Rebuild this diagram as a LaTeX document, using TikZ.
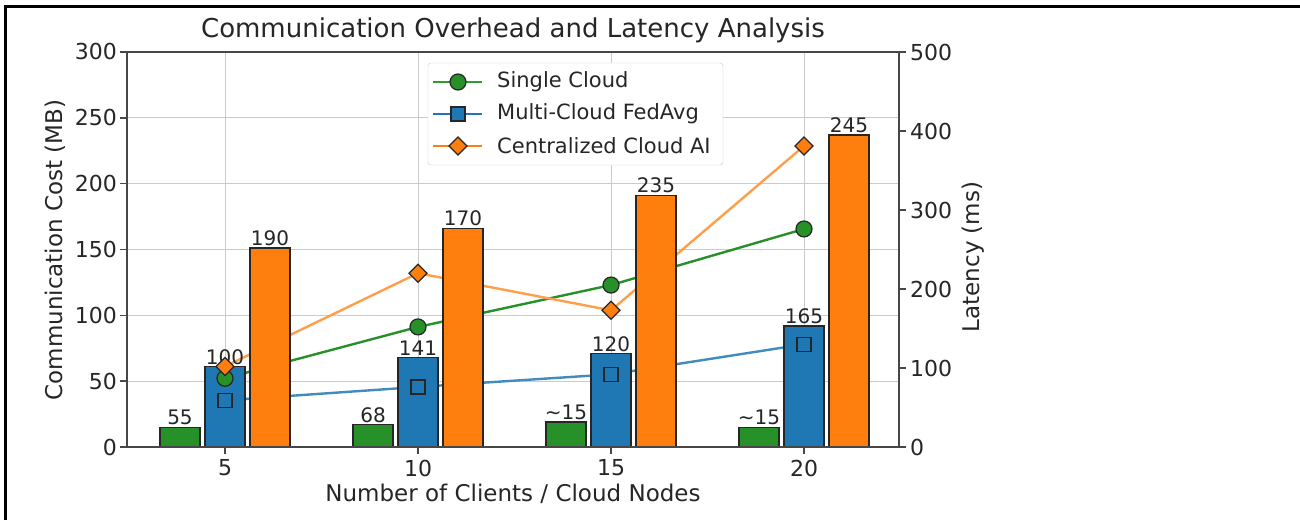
\documentclass[tikz,border=0pt]{standalone}
\usepackage{fontspec}
\setmainfont{DejaVu Sans}
\usetikzlibrary{calc}
\definecolor{singlegreen}{HTML}{2CA02C}
\definecolor{fedblue}{HTML}{1F77B4}
\definecolor{centorange}{HTML}{FF7F0E}
\definecolor{gridgray}{HTML}{CBCBCB}
\definecolor{inkdark}{HTML}{262626}

\begin{document}
\begin{tikzpicture}[
    x=1pt, y=-1pt,
    bar/.style={draw=inkdark, line width=1.4pt},
    gridline/.style={gridgray, line width=1pt},
    spine/.style={inkdark!85, line width=1.6pt},
    series/.style={line width=2.4pt, line join=round},
    mk/.style={draw=inkdark, line width=1.2pt},
    ticklbl/.style={font=\fontsize{22}{22}\selectfont, text=inkdark, inner sep=0pt},
    barlbl/.style={font=\fontsize{20}{20}\selectfont, text=inkdark, anchor=south, inner sep=2pt},
    axislbl/.style={font=\fontsize{23}{23}\selectfont, text=inkdark},
    legendlbl/.style={font=\fontsize{21}{21}\selectfont, text=inkdark, anchor=west, inner sep=0pt}
]

% pixel frame of the axes
\pgfmathsetmacro{\Left}{127}
\pgfmathsetmacro{\Right}{899}
\pgfmathsetmacro{\Top}{52}
\pgfmathsetmacro{\Base}{447}
\pgfmathsetmacro{\Step}{193}
\pgfmathsetmacro{\MBscale}{1.317}   % px per MB
\pgfmathsetmacro{\MSscale}{0.79}    % px per ms

\useasboundingbox (0,0) rectangle (1300,520);
\fill[white] (0,0) rectangle (1300,520);

% outer frame (top and left edge)
\draw[line width=3pt, black] (5,520) -- (5,6) -- (1300,6);

% Grid
\foreach \v in {50,100,...,250} {
    \pgfmathsetmacro{\gy}{\Base-\MBscale*\v}
    \draw[gridline] (\Left,\gy) -- (\Right,\gy);
}
\foreach \i in {0,...,3} {
    \pgfmathsetmacro{\cx}{225+\Step*\i}
    \draw[gridline] (\cx,\Top) -- (\cx,\Base);
}

% Latency points (right axis)
\foreach \i/\s/\f/\c in {0/87/59/102, 1/152/76/220, 2/205/92/173, 3/276/130/381} {
    \pgfmathsetmacro{\cx}{225+\Step*\i}
    \coordinate (sc\i) at (\cx,\Base-\MSscale*\s);
    \coordinate (mc\i) at (\cx,\Base-\MSscale*\f);
    \coordinate (cc\i) at (\cx,\Base-\MSscale*\c);
}
\draw[series, singlegreen!90!black] (sc0) -- (sc1) -- (sc2) -- (sc3);
\draw[series, fedblue!85!white] (mc0) -- (mc1) -- (mc2) -- (mc3);
\draw[series, centorange!75!white] (cc0) -- (cc1) -- (cc2) -- (cc3);

% Bars (left axis) with their labels
\foreach \i/\g/\gl/\b/\bl/\o/\ol in {
    0/15/55/61/100/151/190,
    1/17/68/68/141/166/170,
    2/19/\textasciitilde15/71/120/191/235,
    3/15/\textasciitilde15/92/165/237/245} {
    \pgfmathsetmacro{\cx}{225+\Step*\i}
    \pgfmathsetmacro{\gy}{\Base-\MBscale*\g}
    \pgfmathsetmacro{\by}{\Base-\MBscale*\b}
    \pgfmathsetmacro{\oy}{\Base-\MBscale*\o}
    \draw[bar, fill=singlegreen!90!black] (\cx-65,\Base) rectangle (\cx-25,\gy);
    \draw[bar, fill=fedblue] (\cx-20,\Base) rectangle (\cx+20,\by);
    \draw[bar, fill=centorange] (\cx+25,\Base) rectangle (\cx+65,\oy);
    \node[barlbl] (gl\i) at (\cx-45,\gy) {\gl};
    \node[barlbl] (bl\i) at (\cx,\by) {\bl};
    \node[barlbl] (ol\i) at (\cx+45,\oy) {\ol};
}

% Markers
\foreach \i in {0,...,3} {
    \draw[mk, fill=singlegreen!90!black] (sc\i) circle (8pt);
    \draw[mk, fill=fedblue] ([shift={(-7,-7)}]mc\i) rectangle ([shift={(7,7)}]mc\i);
    \draw[mk, fill=centorange] ([shift={(-9,0)}]cc\i) -- ([shift={(0,-9)}]cc\i)
        -- ([shift={(9,0)}]cc\i) -- ([shift={(0,9)}]cc\i) -- cycle;
}

% Spines and ticks
\draw[spine] (\Left,\Top) rectangle (\Right,\Base);
\foreach \v in {0,50,...,300} {
    \pgfmathsetmacro{\gy}{\Base-\MBscale*\v}
    \draw[spine] (\Left,\gy) -- (\Left-7,\gy);
    \node[ticklbl, anchor=east] (lt\v) at (\Left-10,\gy) {\v};
}
\foreach \v in {0,100,...,500} {
    \pgfmathsetmacro{\gy}{\Base-\MSscale*\v}
    \draw[spine] (\Right,\gy) -- (\Right+7,\gy);
    \node[ticklbl, anchor=west] (rt\v) at (\Right+11,\gy) {\v};
}
\foreach \i/\n in {0/5, 1/10, 2/15, 3/20} {
    \pgfmathsetmacro{\cx}{225+\Step*\i}
    \draw[spine] (\cx,\Base) -- (\cx,\Base+7);
    \node[ticklbl] (xt\i) at (\cx,468) {\n};
}

% Axis labels and title
\node[axislbl] (xlabel) at (513,494) {Number of Clients / Cloud Nodes};
\node[axislbl, rotate=90] (ylabel) at (55,250) {Communication Cost (MB)};
\node[axislbl, rotate=90] (y2label) at (973,257) {Latency (ms)};
\node[font=\fontsize{26}{26}\selectfont, text=inkdark] (title) at (513,30)
    {Communication Overhead and Latency Analysis};

% Legend
\draw[gridgray, fill=white, rounded corners=3pt] (428,63) rectangle (723,165);
\foreach \y/\col/\lbl in {82/singlegreen/Single Cloud, 114/fedblue/Multi-Cloud FedAvg, 146/centorange/Centralized Cloud AI} {
    \draw[series, \col] (433,\y) -- (482,\y);
    \node[legendlbl] (leg\y) at (497,\y) {\lbl};
}
\draw[mk, fill=singlegreen!90!black] (458,82) circle (8pt);
\draw[mk, fill=fedblue] (451,107) rectangle (465,121);
\draw[mk, fill=centorange] (449,146) -- (458,137) -- (467,146) -- (458,155) -- cycle;

\end{tikzpicture}
\end{document}
